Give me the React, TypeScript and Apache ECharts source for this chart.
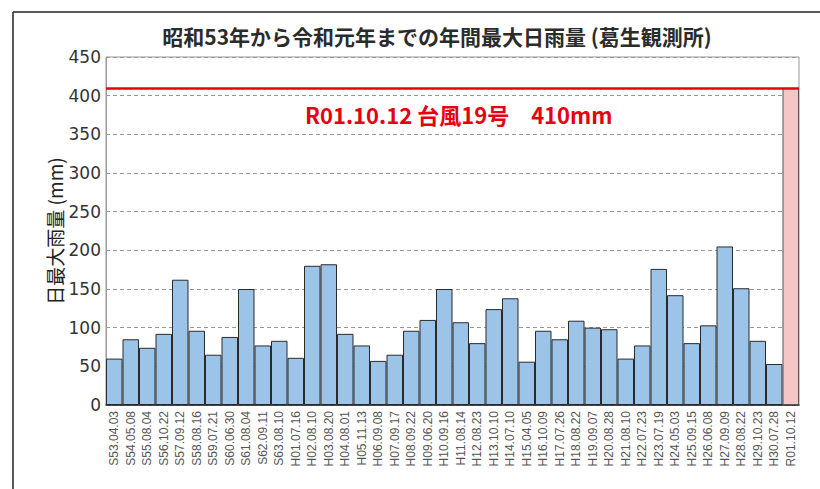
import React, { useEffect, useRef } from "react";
import * as echarts from "echarts";

const categories = [
  "S53.04.03", "S54.05.08", "S55.08.04", "S56.10.22", "S57.09.12", "S58.08.16",
  "S59.07.21", "S60.06.30", "S61.08.04", "S62.09.11", "S63.08.10", "H01.07.16",
  "H02.08.10", "H03.08.20", "H04.08.01", "H05.11.13", "H06.09.08", "H07.09.17",
  "H08.09.22", "H09.06.20", "H10.09.16", "H11.08.14", "H12.08.23", "H13.10.10",
  "H14.07.10", "H15.04.05", "H16.10.09", "H17.07.26", "H18.08.22", "H19.09.07",
  "H20.08.28", "H21.08.10", "H22.07.23", "H23.07.19", "H24.05.03", "H25.09.15",
  "H26.06.08", "H27.09.09", "H28.08.22", "H29.10.23", "H30.07.28", "R01.10.12",
];

const rainfall = [
  60, 85, 74, 92, 162, 96, 65, 88, 150, 77, 83, 61,
  180, 182, 92, 77, 57, 65, 96, 110, 150, 107, 80, 124,
  138, 56, 96, 85, 109, 100, 98, 60, 77, 176, 142, 80,
  103, 205, 151, 83, 53, 410,
];

const highlightIndex = 41;
const maxLineValue = 410;
const titleText = "昭和53年から令和元年までの年間最大日雨量 (葛生観測所)";
const yAxisName = "日最大雨量 (mm)";
const annotationText = "R01.10.12 台風19号　410mm";

const FONT = "Noto Sans CJK JP";
const NUM_FONT = "DejaVu Sans";
const LABEL_FONT = "Liberation Sans";

export default function App() {
  const ref = useRef<HTMLDivElement>(null);
  useEffect(() => {
    if (!ref.current) return;
    const chart = echarts.init(ref.current, null, { renderer: "svg" });
    chart.setOption({
      animation: false,
      backgroundColor: "#ffffff",
      title: {
        text: titleText,
        left: 432,
        top: 20,
        textAlign: "center",
        textStyle: { fontFamily: FONT, fontSize: 21, fontWeight: "bold", color: "#2b2b2b" },
      },
      grid: {
        left: 106,
        right: 21,
        top: 57,
        bottom: 84,
        show: true,
        borderColor: "#999",
        borderWidth: 1,
        containLabel: false,
      },
      xAxis: {
        type: "category",
        data: categories,
        axisLine: { lineStyle: { color: "#222", width: 1.5 } },
        axisTick: { show: false },
        axisLabel: {
          rotate: 90,
          interval: 0,
          fontSize: 12,
          color: "#555",
          margin: 6,
          fontFamily: LABEL_FONT,
        },
      },
      yAxis: {
        type: "value",
        min: 0,
        max: 450,
        interval: 50,
        name: yAxisName,
        nameLocation: "middle",
        nameGap: 42,
        nameMoveOverlap: false,
        nameTextStyle: { fontSize: 19, color: "#222", fontFamily: FONT },
        axisLine: { show: true, lineStyle: { color: "#999" } },
        axisTick: { show: false },
        axisLabel: { fontSize: 17, color: "#333", margin: 5, fontFamily: NUM_FONT },
        splitLine: { show: true, lineStyle: { color: "#999", type: [4, 3], width: 1 } },
      },
      series: [
        {
          type: "bar",
          data: rainfall.map((v, i) =>
            i === highlightIndex
              ? { value: v, itemStyle: { color: "#f6c6c7", borderColor: "#555", borderWidth: 1 } }
              : v
          ),
          barCategoryGap: "0%",
          itemStyle: { color: "#9cc4e9", borderColor: "#2a2a2a", borderWidth: 1 },
          markLine: {
            silent: true,
            symbol: "none",
            label: { show: false },
            lineStyle: { color: "#e60012", width: 2.5, type: "solid" },
            data: [{ yAxis: maxLineValue }],
          },
          z: 2,
        },
      ],
      graphic: [
        {
          type: "line",
          shape: { x1: 13, y1: 12, x2: 820, y2: 12 },
          style: { stroke: "#222", lineWidth: 1.5 },
        },
        {
          type: "line",
          shape: { x1: 13, y1: 12, x2: 13, y2: 489 },
          style: { stroke: "#222", lineWidth: 1.5 },
        },
        {
          type: "text",
          left: 305,
          top: 103,
          style: {
            text: annotationText,
            fill: "#e60012",
            fontSize: 22,
            fontWeight: "bold",
            fontFamily: FONT,
          },
        },
      ],
    });
    return () => chart.dispose();
  }, []);
  return (
    <div
      ref={ref}
      style={{ position: "fixed", left: 0, top: 0, width: 820, height: 489 }}
    />
  );
}
